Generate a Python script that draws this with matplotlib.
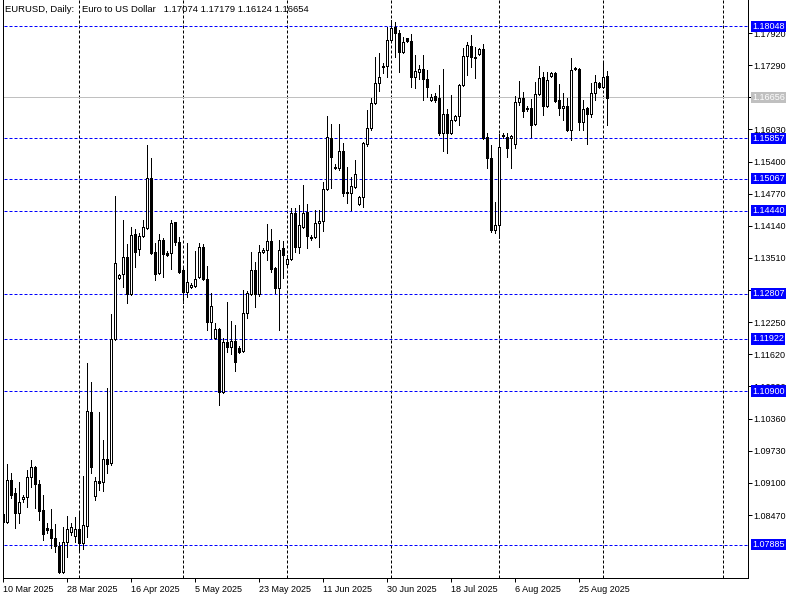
import numpy as np
import pandas as pd
import matplotlib
matplotlib.use("Agg")
import matplotlib.pyplot as plt
import matplotlib.transforms as mtransforms

plt.rcParams['font.family'] = ['Liberation Sans', 'DejaVu Sans']

# daily bars, the broker also gives a short Sunday bar (no Saturdays)
dates = pd.date_range("2025-03-10", "2025-09-02", freq="D")
dates = dates[dates.dayofweek != 5]

opens = [1.0849, 1.0833, 1.0916, 1.0890, 1.0851, 1.0878, 1.0882, 1.0922, 1.0941, 1.0908,
         1.0857, 1.0822, 1.0820, 1.0802, 1.0786, 1.0735, 1.0794, 1.0814, 1.0806, 1.0820,
         1.0792, 1.0825, 1.1049, 1.0884, 1.0914, 1.0912, 1.0957, 1.0949, 1.1192, 1.1312,
         1.1319, 1.1353, 1.1280, 1.1398, 1.1369, 1.1394, 1.1410, 1.1508, 1.1363, 1.1321,
         1.1386, 1.1361, 1.1361, 1.1421, 1.1382, 1.1327, 1.1284, 1.1294, 1.1296, 1.1314,
         1.1372, 1.1310, 1.1225, 1.1194, 1.1212, 1.1088, 1.1186, 1.1176, 1.1188, 1.1174,
         1.1169, 1.1243, 1.1280, 1.1327, 1.1280, 1.1363, 1.1367, 1.1384, 1.1331, 1.1292,
         1.1371, 1.1339, 1.1349, 1.1439, 1.1372, 1.1412, 1.1441, 1.1392, 1.1392, 1.1419,
         1.1423, 1.1486, 1.1586, 1.1529, 1.1527, 1.1561, 1.1480, 1.1478, 1.1490, 1.1457,
         1.1470, 1.1574, 1.1606, 1.1655, 1.1694, 1.1727, 1.1727, 1.1778, 1.1804, 1.1792,
         1.1755, 1.1782, 1.1776, 1.1706, 1.1716, 1.1721, 1.1702, 1.1661, 1.1669, 1.1665,
         1.1596, 1.1633, 1.1596, 1.1621, 1.1629, 1.1690, 1.1747, 1.1767, 1.1745, 1.1751,
         1.1761, 1.1588, 1.1547, 1.1406, 1.1416, 1.1592, 1.1588, 1.1586, 1.1574, 1.1657,
         1.1665, 1.1645, 1.1645, 1.1614, 1.1672, 1.1706, 1.1649, 1.1708, 1.1714, 1.1661,
         1.1645, 1.1649, 1.1602, 1.1723, 1.1721, 1.1617, 1.1645, 1.1633, 1.1674, 1.1694,
         1.1686, 1.17074]

highs = [1.0853, 1.0947, 1.0929, 1.0900, 1.0912, 1.0886, 1.0935, 1.0955, 1.0943, 1.0916,
         1.0886, 1.0831, 1.0859, 1.0829, 1.0794, 1.0823, 1.0845, 1.0831, 1.0843, 1.0851,
         1.0923, 1.1145, 1.1108, 1.0922, 1.1049, 1.0994, 1.1096, 1.1241, 1.1472, 1.1319,
         1.1425, 1.1378, 1.1412, 1.1408, 1.1400, 1.1425, 1.1572, 1.1547, 1.1380, 1.1398,
         1.1390, 1.1365, 1.1425, 1.1421, 1.1392, 1.1331, 1.1380, 1.1302, 1.1365, 1.1380,
         1.1378, 1.1335, 1.1282, 1.1223, 1.1214, 1.1194, 1.1265, 1.1227, 1.1219, 1.1178,
         1.1288, 1.1286, 1.1363, 1.1343, 1.1376, 1.1371, 1.1418, 1.1408, 1.1333, 1.1386,
         1.1384, 1.1357, 1.1449, 1.1449, 1.1455, 1.1494, 1.1457, 1.1396, 1.1445, 1.1445,
         1.1500, 1.1629, 1.1614, 1.1535, 1.1614, 1.1576, 1.1529, 1.1510, 1.1543, 1.1472,
         1.1578, 1.1641, 1.1665, 1.1745, 1.1753, 1.1733, 1.1804, 1.1817, 1.1814, 1.1798,
         1.1784, 1.1782, 1.1790, 1.1749, 1.1729, 1.1749, 1.1720, 1.1672, 1.1674, 1.1690,
         1.1721, 1.1643, 1.1670, 1.1631, 1.1692, 1.1763, 1.1774, 1.1788, 1.1765, 1.1763,
         1.1770, 1.1596, 1.1572, 1.1461, 1.1594, 1.1596, 1.1596, 1.1592, 1.1669, 1.1698,
         1.1676, 1.1649, 1.1663, 1.1696, 1.1727, 1.1716, 1.1716, 1.1716, 1.1716, 1.1692,
         1.1674, 1.1665, 1.1743, 1.1725, 1.1723, 1.1661, 1.1647, 1.1694, 1.1710, 1.1696,
         1.1733, 1.17179]

lows = [1.0831, 1.0831, 1.0880, 1.0822, 1.0831, 1.0872, 1.0863, 1.0902, 1.0861, 1.0837,
        1.0798, 1.0812, 1.0782, 1.0774, 1.0733, 1.0733, 1.0765, 1.0808, 1.0794, 1.0778,
        1.0780, 1.0804, 1.0929, 1.0876, 1.0896, 1.0894, 1.0929, 1.0945, 1.1190, 1.1310,
        1.1294, 1.1263, 1.1278, 1.1333, 1.1357, 1.1392, 1.1408, 1.1359, 1.1308, 1.1319,
        1.1314, 1.1355, 1.1329, 1.1376, 1.1321, 1.1263, 1.1274, 1.1292, 1.1294, 1.1312,
        1.1308, 1.1210, 1.1194, 1.1192, 1.1063, 1.1086, 1.1167, 1.1163, 1.1129, 1.1165,
        1.1167, 1.1233, 1.1278, 1.1255, 1.1276, 1.1361, 1.1347, 1.1323, 1.1282, 1.1210,
        1.1312, 1.1333, 1.1347, 1.1363, 1.1361, 1.1410, 1.1370, 1.1386, 1.1390, 1.1372,
        1.1404, 1.1484, 1.1488, 1.1525, 1.1523, 1.1472, 1.1459, 1.1445, 1.1488, 1.1455,
        1.1451, 1.1570, 1.1602, 1.1653, 1.1678, 1.1714, 1.1706, 1.1776, 1.1745, 1.1716,
        1.1753, 1.1774, 1.1686, 1.1684, 1.1702, 1.1661, 1.1667, 1.1659, 1.1657, 1.1592,
        1.1561, 1.1557, 1.1594, 1.1620, 1.1612, 1.1688, 1.1710, 1.1725, 1.1704, 1.1749,
        1.1584, 1.1527, 1.1402, 1.1400, 1.1390, 1.1586, 1.1549, 1.1527, 1.1566, 1.1651,
        1.1627, 1.1639, 1.1588, 1.1612, 1.1670, 1.1631, 1.1647, 1.1706, 1.1657, 1.1631,
        1.1621, 1.1600, 1.1582, 1.1720, 1.1602, 1.1602, 1.1574, 1.1627, 1.1661, 1.1684,
        1.1684, 1.16124]

closes = [1.0833, 1.0916, 1.0886, 1.0851, 1.0872, 1.0882, 1.0922, 1.0941, 1.0908, 1.0855,
          1.0810, 1.0818, 1.0802, 1.0786, 1.0735, 1.0794, 1.0820, 1.0823, 1.0820, 1.0792,
          1.0827, 1.1051, 1.0941, 1.0914, 1.0910, 1.0957, 1.0947, 1.1192, 1.1341, 1.1318,
          1.1353, 1.1280, 1.1396, 1.1363, 1.1394, 1.1412, 1.1508, 1.1361, 1.1319, 1.1386,
          1.1359, 1.1357, 1.1419, 1.1382, 1.1323, 1.1284, 1.1304, 1.1298, 1.1310, 1.1372,
          1.1310, 1.1225, 1.1257, 1.1212, 1.1088, 1.1186, 1.1176, 1.1188, 1.1147, 1.1167,
          1.1243, 1.1282, 1.1327, 1.1280, 1.1363, 1.1367, 1.1384, 1.1329, 1.1292, 1.1367,
          1.1357, 1.1349, 1.1439, 1.1372, 1.1416, 1.1439, 1.1394, 1.1390, 1.1419, 1.1423,
          1.1486, 1.1588, 1.1549, 1.1527, 1.1561, 1.1478, 1.1478, 1.1492, 1.1516, 1.1470,
          1.1576, 1.1606, 1.1655, 1.1694, 1.1706, 1.1725, 1.1778, 1.1802, 1.1792, 1.1755,
          1.1774, 1.1776, 1.1706, 1.1718, 1.1721, 1.1702, 1.1686, 1.1667, 1.1661, 1.1596,
          1.1633, 1.1596, 1.1621, 1.1629, 1.1690, 1.1747, 1.1768, 1.1745, 1.1743, 1.1761,
          1.1586, 1.1547, 1.1406, 1.1416, 1.1568, 1.1590, 1.1567, 1.1590, 1.1657, 1.1665,
          1.1639, 1.1643, 1.1612, 1.1672, 1.1704, 1.1649, 1.1700, 1.1714, 1.1659, 1.1645,
          1.1649, 1.1602, 1.1720, 1.1721, 1.1617, 1.1643, 1.1633, 1.1674, 1.1696, 1.1686,
          1.1706, 1.16654]

# horizontal lines drawn by the user, and the current bid
levels = [1.18048, 1.15857, 1.15067, 1.14440, 1.12807, 1.11922, 1.10900, 1.07885]
bid = 1.16656

price_ticks = [1.17920, 1.17290, 1.16660, 1.16030, 1.15400, 1.14770, 1.14140, 1.13510,
               1.12880, 1.12250, 1.11620, 1.10990, 1.10360, 1.09730, 1.09100, 1.08470]

title = "EURUSD, Daily:   Euro to US Dollar   1.17074 1.17179 1.16124 1.16654"

PX = 0.72  # one pixel in points

o = np.array(opens)
h = np.array(highs)
l = np.array(lows)
c = np.array(closes)
x = np.arange(len(dates))

fig = plt.figure(figsize=(8, 6), dpi=100)
ax = fig.add_axes([3 / 800, 22 / 600, 745 / 800, 578 / 600])
ax.set_xlim(-0.05, 186.2)
ax.set_ylim(1.07235, 1.18567)

# grid at the start of each month (the future one counts calendar days)
month_idx = list(np.where(dates.day == 1)[0])
month_idx.append(month_idx[-1] + (pd.Timestamp("2025-10-01") - dates[month_idx[-1]]).days)
ax.vlines(month_idx, 1.07235, 1.18567, colors="black", lw=PX, linestyles=(0, (3, 2)), zorder=1)

ax.hlines(levels, -1, 200, colors="#0000FF", lw=PX, linestyles=(0, (3, 2)), zorder=1)
ax.axhline(bid, color="#C0C0C0", lw=PX, zorder=1)

# candles
ax.vlines(x, l, h, colors="black", lw=PX, zorder=2, antialiased=False)
up = c > o
body_lo = np.minimum(o, c)
body_h = np.abs(c - o)
ax.bar(x[up], body_h[up], bottom=body_lo[up], width=0.5, color="white",
       edgecolor="black", linewidth=PX, zorder=3, antialiased=False)
ax.bar(x[~up], body_h[~up], bottom=body_lo[~up], width=0.5, color="black",
       edgecolor="black", linewidth=PX, zorder=3, antialiased=False)

# price scale on the right
ax.yaxis.tick_right()
ax.set_yticks(price_ticks)
ax.set_yticklabels(["" if abs(p - bid) < 0.0002 else f"{p:.5f}" for p in price_ticks])
ax.tick_params(axis="y", direction="out", length=3, width=PX, labelsize=6.5, pad=1)

# date scale
lab_idx = list(range(0, len(dates), 16))
ax.set_xticks(lab_idx)
ax.set_xticklabels([f"{dates[i].day} {dates[i]:%b %Y}" for i in lab_idx])
for t in ax.get_xticklabels():
    t.set_ha("left")
ax.tick_params(axis="x", direction="out", length=3, width=PX, labelsize=6.5, pad=2)

for s in ["left", "right", "bottom"]:
    ax.spines[s].set_linewidth(PX)
ax.spines["top"].set_visible(False)

tr = mtransforms.blended_transform_factory(ax.transAxes, ax.transData)
for lv in levels:
    ax.text(1.0054, lv, f"{lv:.5f}", transform=tr, ha="left", va="center", fontsize=6.5,
            color="white", clip_on=False, zorder=6,
            bbox=dict(boxstyle="square,pad=0.12", fc="#0000FF", ec="none"))
ax.text(1.0054, bid, f"{bid:.5f}", transform=tr, ha="left", va="center", fontsize=6.5,
        color="white", clip_on=False, zorder=6,
        bbox=dict(boxstyle="square,pad=0.12", fc="#C0C0C0", ec="none"))

ax.text(2 / 745, 1 - 9 / 578, title, transform=ax.transAxes, ha="left", va="center",
        fontsize=6.8, color="black", zorder=7)

fig.savefig("out.png", dpi=100)
